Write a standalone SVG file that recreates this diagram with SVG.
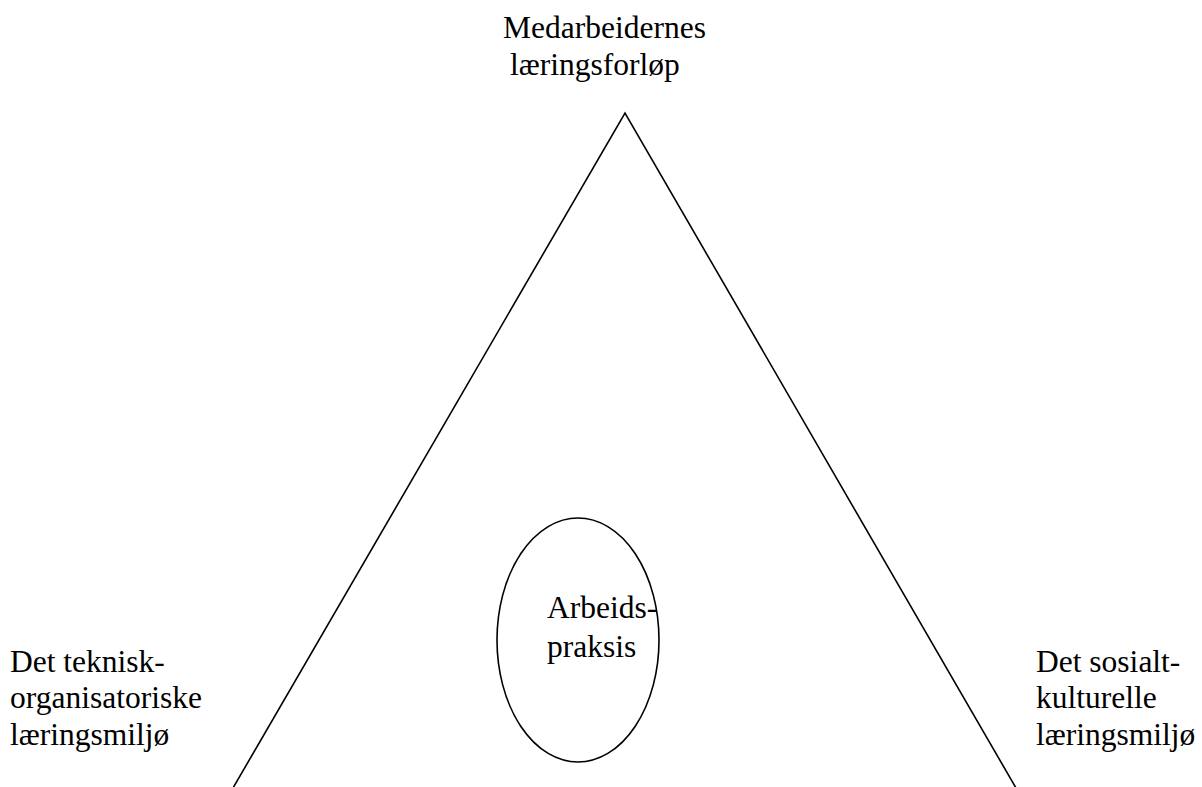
<svg xmlns="http://www.w3.org/2000/svg" width="1202" height="787" viewBox="0 0 1202 787">
<style>
.t{font-family:'Liberation Serif','DejaVu Serif',serif;font-size:31.5px;fill:#000}
.s{fill:none;stroke:#000;stroke-width:1.6}
</style>
<rect width="1202" height="787" fill="#fff"/>
<g id="connectors">
<polyline class="s" points="233,788 625,113 1016,788"/>
</g>
<g id="node-top">
<text class="t" x="503" y="38">Medarbeidernes</text>
<text class="t" x="510" y="75">læringsforløp</text>
</g>
<g id="node-left">
<text class="t" x="10" y="672">Det teknisk-</text>
<text class="t" x="10" y="708">organisatoriske</text>
<text class="t" x="10" y="745">læringsmiljø</text>
</g>
<g id="node-right">
<text class="t" x="1036" y="672">Det sosialt-</text>
<text class="t" x="1036" y="708">kulturelle</text>
<text class="t" x="1036" y="745">læringsmiljø</text>
</g>
<g id="node-center">
<ellipse class="s" cx="578" cy="640" rx="81" ry="122"/>
<text class="t" x="547" y="618">Arbeids-</text>
<text class="t" x="547" y="657">praksis</text>
</g>
</svg>
